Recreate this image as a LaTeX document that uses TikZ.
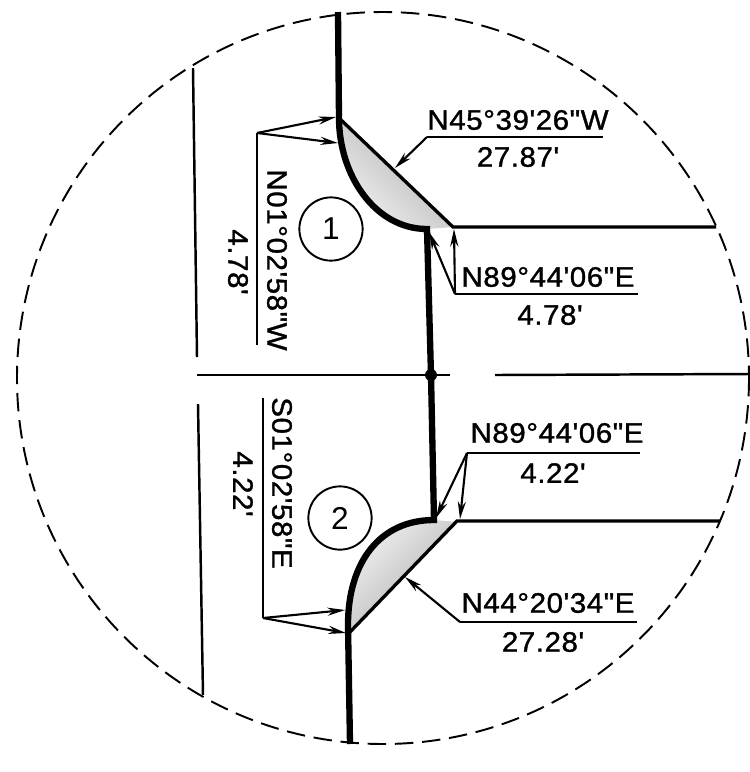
\documentclass[tikz,border=0pt]{standalone}
\usepackage{fontspec}
\usepackage{tikz}
\usetikzlibrary{arrows.meta}
\newfontfamily\platfont[LetterSpace=2,FakeStretch=1.05,FakeBold=1.2]{Liberation Sans}
\newfontfamily\parcelfont{Liberation Sans}
\tikzset{
  boundary/.style={
    line width=1.4pt,
  },
  road/.style={
    line width=3.6pt,
  },
  leader/.style={
    line width=1.2pt,
  },
  pointer/.style={
    leader,
    -{Stealth[length=10pt,width=4.6pt]},
  },
  callout/.style={
    font=\platfont\fontsize{16}{18}\selectfont,
    inner sep=0pt,
  },
  parcel/.style={
    draw,
    shape=circle,
    line width=1.1pt,
    minimum size=36pt,
    inner sep=0pt,
    font=\parcelfont\fontsize{18}{20}\selectfont,
  }
}

\begin{document}
\begin{tikzpicture}[x=0.02cm,y=-0.02cm]
\useasboundingbox (0,0) rectangle (750,772);

% Detail circle
\draw[line width=1.1pt, dash pattern=on 10.5pt off 5pt] (383,378) circle[radius=366];

% Lot lines
\draw[boundary] (193,68) -- (197,357);
\draw[boundary] (198,404) -- (203,695);
\draw[boundary] (197,375) -- (450,375);
\draw[boundary] (495,375) -- (750,374);

% Shaded corners
\shade[top color=gray!65, bottom color=gray!12, shading angle=-45] (339,118) .. controls (339,175) and (375,229) .. (427,229) -- (453,227) -- cycle;
\shade[top color=gray!12, bottom color=gray!65, shading angle=45] (435,520) .. controls (380,520) and (348,562) .. (348,625) -- (350,632) -- (457,522) -- cycle;

% Chords
\coordinate (pc1) at (339,118);
\coordinate (pt1) at (453,227);
\coordinate (pc2) at (350,632);
\coordinate (pt2) at (457,521);
\coordinate (end1) at (716,227);
\coordinate (end2) at (720,521);
\draw[line width=1.9pt] (pc1) -- (pt1) -- (end1);
\draw[line width=1.9pt] (pc2) -- (pt2) -- (end2);

% Thick line
\coordinate (top) at (338,12);
\coordinate (mid) at (431,375);
\coordinate (bot) at (350,744);
\draw[road] (top) -- (pc1) .. controls (339,175) and (375,229) .. (427,229) -- (mid) -- (434,520)
  .. controls (380,520) and (348,562) .. (348,625) -- (bot);
\fill (mid) circle[radius=6];

% Parcels
\node[parcel] (one) at (331,229) {1};
\node[parcel] (two) at (340,518) {2};

% Top left
\coordinate (nwa) at (257,133);
\coordinate (nwb) at (257,345);
\draw[leader] (nwa) -- (nwb);
\draw[pointer] (nwa) -- (336,117);
\draw[pointer] (nwa) -- (338,143);
\node[callout, rotate=-90] (nwbear) at (277,260) {N01°02'58"W};
\node[callout, rotate=-90] (nwdist) at (238,262) {4.78'};

% Bottom left
\coordinate (swa) at (263,618);
\coordinate (swb) at (263,398);
\draw[leader] (swa) -- (swb);
\draw[pointer] (swa) -- (345,610);
\draw[pointer] (swa) -- (346,633);
\node[callout, rotate=-90] (swbear) at (282,483) {S01°02'58"E};
\node[callout, rotate=-90] (swdist) at (243,484) {4.22'};

% Chord one
\coordinate (caa) at (427,137);
\coordinate (cab) at (603,137);
\draw[leader] (cab) -- (caa);
\draw[pointer] (caa) -- (395,168);
\node[callout] (cabear) at (518,120) {N45°39'26"W};
\node[callout] (cadist) at (518,157) {27.87'};

% Tangent one
\coordinate (taa) at (455,294);
\coordinate (tab) at (638,294);
\draw[leader] (tab) -- (taa);
\draw[pointer] (taa) -- (454,229);
\draw[pointer] (taa) -- (429,232);
\node[callout] (tabear) at (548,277) {N89°44'06"E};
\node[callout] (tadist) at (550,315) {4.78'};

% Tangent two
\coordinate (tba) at (467,453);
\coordinate (tbb) at (640,453);
\draw[leader] (tbb) -- (tba);
\draw[pointer] (tba) -- (460,519);
\draw[pointer] (tba) -- (436,518);
\node[callout] (tbbear) at (557,433) {N89°44'06"E};
\node[callout] (tbdist) at (553,473) {4.22'};

% Chord two
\coordinate (cba) at (460,622);
\coordinate (cbb) at (637,622);
\draw[leader] (cbb) -- (cba);
\draw[pointer] (cba) -- (405,577);
\node[callout] (cbbear) at (548,603) {N44°20'34"E};
\node[callout] (cbdist) at (543,642) {27.28'};

\end{tikzpicture}
\end{document}
